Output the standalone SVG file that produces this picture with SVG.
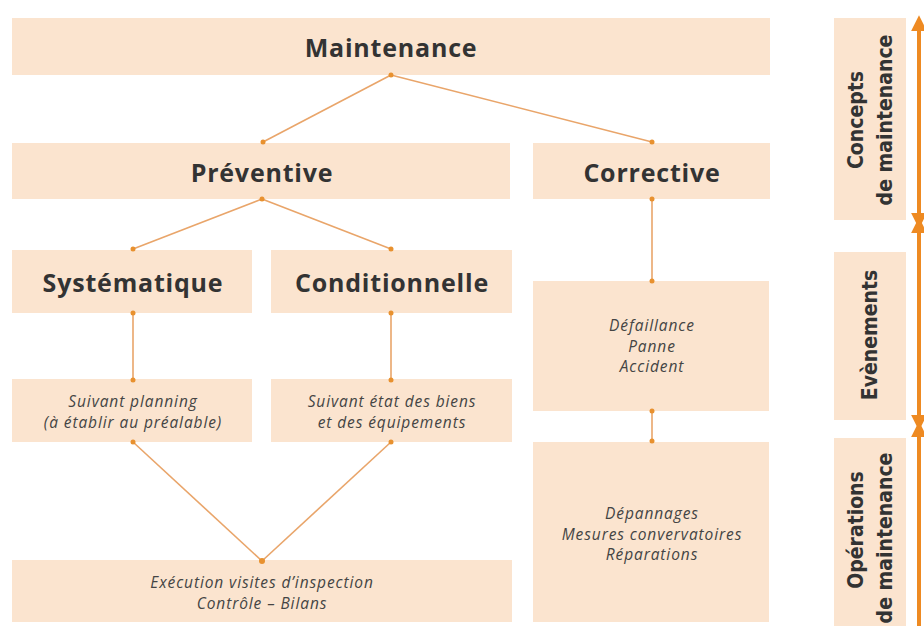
<svg xmlns="http://www.w3.org/2000/svg" width="924" height="626" viewBox="0 0 924 626">
<defs>
<style>
.box{fill:#fbe4cf}
.t1{font-family:"Open Sans","Liberation Sans",sans-serif;font-weight:700;font-size:25px;letter-spacing:0.8px;fill:#333;text-anchor:middle}
.it{font-family:"Open Sans","Liberation Sans",sans-serif;font-style:italic;font-size:15.5px;letter-spacing:0.9px;fill:#444;text-anchor:middle}
.side{font-family:"DejaVu Sans Condensed","DejaVu Sans",sans-serif;font-stretch:condensed;font-weight:700;font-size:21px;fill:#333;text-anchor:middle}
.ln{stroke:#e9a56a;stroke-width:1.6;fill:none}
.dot{fill:#e8912f}
.arr{stroke:#ee8a22;stroke-width:4;fill:none}
</style>
<marker id="ah" viewBox="0 0 10 10" refX="2" refY="5" markerWidth="4" markerHeight="4" orient="auto-start-reverse">
<path d="M0,0 L10,5 L0,10 z" fill="#ee8a22"/>
</marker>
</defs>
<rect width="924" height="626" fill="#fff"/>

<g id="connectors">
<line class="ln" x1="391" y1="75" x2="263" y2="142"/>
<line class="ln" x1="391" y1="75" x2="652" y2="142"/>
<line class="ln" x1="262" y1="199" x2="133" y2="249"/>
<line class="ln" x1="262" y1="199" x2="391" y2="249"/>
<line class="ln" x1="133" y1="313" x2="133" y2="380"/>
<line class="ln" x1="391" y1="313" x2="391" y2="380"/>
<line class="ln" x1="133" y1="442" x2="262" y2="561"/>
<line class="ln" x1="391" y1="442" x2="262" y2="561"/>
<line class="ln" x1="652" y1="199" x2="652" y2="281"/>
<line class="ln" x1="652" y1="411" x2="652" y2="441"/>
</g>

<g id="maintenance"><rect class="box" x="12" y="18" width="758" height="57"/><text class="t1" x="391" y="57" font-size="26">Maintenance</text></g>
<g id="preventive"><rect class="box" x="12" y="143" width="498" height="56"/><text class="t1" x="262" y="182">Préventive</text></g>
<g id="corrective"><rect class="box" x="533" y="143" width="237" height="56"/><text class="t1" x="652" y="182">Corrective</text></g>
<g id="systematique"><rect class="box" x="12" y="250" width="240" height="63"/><text class="t1" x="133" y="292">Systématique</text></g>
<g id="conditionnelle"><rect class="box" x="271" y="250" width="241" height="63"/><text class="t1" x="392" y="292">Conditionnelle</text></g>
<g id="suivant-planning"><rect class="box" x="12" y="379" width="240" height="63"/><text class="it" x="133" y="407">Suivant planning</text><text class="it" x="133" y="428">(à établir au préalable)</text></g>
<g id="suivant-etat"><rect class="box" x="271" y="379" width="241" height="63"/><text class="it" x="392" y="407">Suivant état des biens</text><text class="it" x="392" y="428">et des équipements</text></g>
<g id="execution"><rect class="box" x="12" y="560" width="500" height="62"/><text class="it" x="262" y="588">Exécution visites d’inspection</text><text class="it" x="262" y="609">Contrôle – Bilans</text></g>
<g id="defaillance"><rect class="box" x="533" y="281" width="236" height="130"/><text class="it" x="652" y="331">Défaillance</text><text class="it" x="652" y="352">Panne</text><text class="it" x="652" y="372">Accident</text></g>
<g id="depannages"><rect class="box" x="533" y="442" width="236" height="180"/><text class="it" x="652" y="519">Dépannages</text><text class="it" x="652" y="540">Mesures convervatoires</text><text class="it" x="652" y="560">Réparations</text></g>

<g id="dots">
<circle class="dot" cx="391" cy="75" r="2.5"/>
<circle class="dot" cx="263" cy="142" r="2.5"/>
<circle class="dot" cx="652" cy="142" r="2.5"/>
<circle class="dot" cx="262" cy="199" r="2.5"/>
<circle class="dot" cx="652" cy="199" r="2.5"/>
<circle class="dot" cx="133" cy="249" r="2.5"/>
<circle class="dot" cx="391" cy="249" r="2.5"/>
<circle class="dot" cx="133" cy="313" r="2.5"/>
<circle class="dot" cx="391" cy="313" r="2.5"/>
<circle class="dot" cx="133" cy="380" r="2.5"/>
<circle class="dot" cx="391" cy="380" r="2.5"/>
<circle class="dot" cx="133" cy="442" r="2.5"/>
<circle class="dot" cx="391" cy="442" r="2.5"/>
<circle class="dot" cx="262" cy="561" r="3"/>
<circle class="dot" cx="652" cy="281" r="2.5"/>
<circle class="dot" cx="652" cy="411" r="2.5"/>
<circle class="dot" cx="652" cy="441" r="2.5"/>
</g>

<g id="concepts"><rect class="box" x="834" y="18" width="72" height="202"/><text class="side" transform="translate(863,120) rotate(-90)">Concepts</text><text class="side" transform="translate(892,120) rotate(-90)">de maintenance</text></g>
<g id="evenements"><rect class="box" x="834" y="252" width="72" height="168"/><text class="side" transform="translate(877,335) rotate(-90)">Evènements</text></g>
<g id="operations"><rect class="box" x="834" y="438" width="72" height="188"/><text class="side" transform="translate(863,530) rotate(-90)">Opérations</text><text class="side" transform="translate(892,538) rotate(-90)">de maintenance</text></g>

<g id="side-arrows">
<line class="arr" x1="919" y1="28" x2="919" y2="216" marker-start="url(#ah)" marker-end="url(#ah)"/>
<line class="arr" x1="919" y1="230" x2="919" y2="418" marker-start="url(#ah)" marker-end="url(#ah)"/>
<line class="arr" x1="919" y1="434" x2="919" y2="630" marker-start="url(#ah)" marker-end="url(#ah)"/>
</g>
</svg>
